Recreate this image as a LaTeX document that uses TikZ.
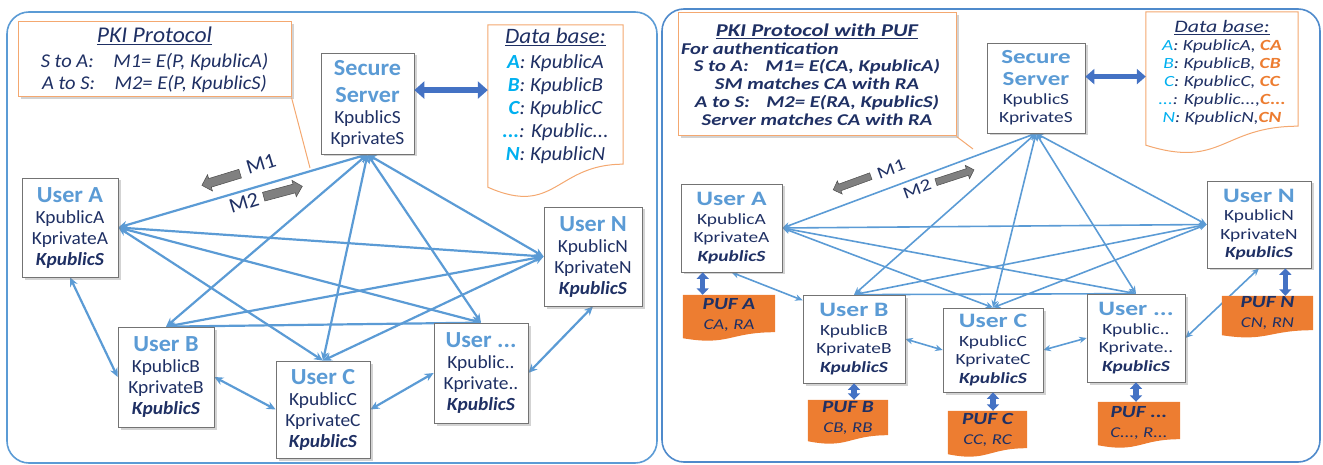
\documentclass[tikz,border=0pt]{standalone}
\usepackage{fontspec}
\setmainfont{Carlito}[FakeStretch=1.05]
\newfontfamily\rfont{Carlito}[FakeStretch=1.25]
\usetikzlibrary{arrows.meta,shadows,calc}

\definecolor{navy}{HTML}{1F3064}
\definecolor{ublue}{HTML}{5B9BD5}
\definecolor{lnblue}{HTML}{5B9BD5}
\definecolor{panelblue}{HTML}{5B9BD5}
\definecolor{panelblueR}{HTML}{4F8ACB}
\definecolor{cyanl}{HTML}{00B0F0}
\definecolor{orline}{HTML}{F4A870}
\definecolor{orfill}{HTML}{ED7D31}
\definecolor{dblue}{HTML}{4472C4}

\pgfdeclarelayer{back}
\pgfdeclarelayer{mid}
\pgfsetlayers{back,mid,main}

% document outline with a wavy lower edge:
% style, node, right-end offset, left-end offset, control offset
\newcommand\wavedoc[5]{%
  \path[#1] ($(#2.south east)+(0,#3)$) -- (#2.north east) -- (#2.north west)
    -- ($(#2.south west)+(0,#4)$) .. controls ($(#2.south)+(0,#5)$) and ($(#2.south)+(0,#3)$)
    .. ($(#2.south east)+(0,#3)$) -- cycle;}

% grey block arrow: centre x, centre y, direction, length, shaft width, head width, head length
\newcommand\blockarrow[7]{%
  \begin{scope}[shift={(#1,#2)}, rotate=#3]
    \filldraw[fill=black!50, draw=black!70, line width=0.5pt]
      (-#4/2,-#5/2) -- (#4/2-#7,-#5/2) -- (#4/2-#7,-#6/2) -- (#4/2,0)
      -- (#4/2-#7,#6/2) -- (#4/2-#7,#5/2) -- (-#4/2,#5/2) -- cycle;
  \end{scope}}

\newcommand\uttl[1]{{\fontsize{23}{21}\selectfont\bfseries\color{ublue}#1}}
\newcommand\rttl[1]{{\fontsize{20.5}{18.5}\selectfont\bfseries\color{ublue}#1}}
\newcommand\kS{\textbf{\textit{KpublicS}}}
\newcommand\cyl[1]{\textbf{\color{cyanl}#1}}
\newcommand\cyr[1]{{\color{cyanl}#1}}
\newcommand\orr[1]{\textbf{\color{orfill}#1}}

\begin{document}
\begin{tikzpicture}[x=1pt,y=-1pt,
  panel/.style={draw=panelblue, line width=1.6pt, rounded corners=22pt},
  box/.style={draw=black!55, line width=0.7pt, fill=white, inner sep=0pt, align=center, text=navy,
    drop shadow={shadow xshift=2.5pt, shadow yshift=-2.5pt, opacity=0.35}},
  lbody/.style={font=\fontsize{18.5}{21}\selectfont},
  rbody/.style={font=\rfont\fontsize{15.5}{18.5}\selectfont},
  note/.style={draw=orline, line width=1pt, fill=white, inner sep=0pt, align=center, text=navy,
    drop shadow={shadow xshift=2.5pt, shadow yshift=-2.5pt, opacity=0.35}},
  textonly/.style={inner sep=0pt, align=center, text=navy},
  dbline/.style={draw=orline, line width=1pt, fill=white},
  puffill/.style={fill=orfill},
  callout/.style={draw=orline, line width=1pt},
  link/.style={draw=lnblue, line width=2.2pt, {Stealth[length=9pt,width=8pt]}-{Stealth[length=9pt,width=8pt]}},
  rlink/.style={draw=lnblue, line width=1.6pt, {Stealth[length=7.5pt,width=6.5pt]}-{Stealth[length=7.5pt,width=6.5pt]}},
  big/.style={draw=dblue, line width=6pt, {Triangle[length=10pt,width=17pt]}-{Triangle[length=10pt,width=17pt]}},
  rbig/.style={draw=dblue, line width=5pt, {Triangle[length=9pt,width=15pt]}-{Triangle[length=9pt,width=15pt]}},
  pufarr/.style={draw=dblue, line width=5.5pt, {Triangle[length=6.5pt,width=12pt]}-{Triangle[length=6.5pt,width=12pt]}},
  mlabel/.style={text=navy, inner sep=0pt, font=\fontsize{21}{21}\selectfont},
  rmlabel/.style={text=navy, inner sep=0pt, font=\rfont\fontsize{17}{17}\selectfont}
]
\useasboundingbox (0,0) rectangle (1323,465);

% ---------------- panels ----------------
\begin{pgfonlayer}{back}
  \draw[panel] (7,12) rectangle (657,463);
  \draw[panel, draw=panelblueR] (662,9) rectangle (1320,462);
\end{pgfonlayer}

% ================= left: PKI protocol =================
\node[note, minimum width=273pt, minimum height=75pt, font=\itshape\fontsize{19.5}{22}\selectfont] (pkL) at (154.5,59.5)
  {{\fontsize{22.5}{22}\selectfont\underline{PKI Protocol}}\\[3pt]
   S to A:\quad M1= E(P, KpublicA)\\
   A to S:\quad M2= E(P, KpublicS)};
\coordinate (calL) at (310,168);
\draw[callout] (pkL.south east) -- (calL);

\node[box, lbody, minimum width=93pt, minimum height=101pt] (sL) at (367.5,103.5)
  {\uttl{Secure}\\[6pt]\uttl{Server}\\KpublicS\\KprivateS};

\node[textonly, minimum width=135pt, minimum height=142pt, font=\itshape\fontsize{20}{23}\selectfont] (dbL) at (555.5,96)
  {{\fontsize{22}{23}\selectfont\underline{Data base:}}\\[2pt]
   \cyl{A}: KpublicA\\
   \cyl{B}: KpublicB\\
   \cyl{C}: KpublicC\\
   \cyl{...}: Kpublic...\\
   \cyl{N}: KpublicN};
\begin{pgfonlayer}{mid}
  \wavedoc{dbline}{dbL}{-3}{20}{50}
\end{pgfonlayer}
\draw[big] (sL.16) -- (sL.16 -| dbL.west);

\node[box, lbody, minimum width=96pt, minimum height=99pt] (uA) at (70,227.5)
  {\uttl{User A}\\KpublicA\\KprivateA\\\kS};
\node[box, lbody, minimum width=96pt, minimum height=100pt] (uB) at (166,377)
  {\uttl{User B}\\KpublicB\\KprivateB\\\kS};
\node[box, lbody, minimum width=94pt, minimum height=97pt] (uC) at (323,409.5)
  {\uttl{User C}\\KpublicC\\KprivateC\\\kS};
\node[box, lbody, minimum width=94pt, minimum height=100pt] (uD) at (481,373)
  {\uttl{User ...}\\Kpublic..\\Kprivate..\\\kS};
\node[box, lbody, minimum width=98pt, minimum height=99pt] (uN) at (593,256.5)
  {\uttl{User N}\\KpublicN\\KprivateN\\\kS};

\begin{pgfonlayer}{back}
  \foreach \u in {uA.east, uB.north, uC.north, uD.north, uN.west}
    \draw[link] (sL.south) -- (\u);
  \draw[link] (uA.east) -- (uN.west);
  \draw[link] (uA.east) -- (uD.north);
  \draw[link] (uA.east) -- (uC.north);
  \draw[link] (uB.north) -- (uN.west);
  \draw[link] (uB.north) -- (uD.north);
  \draw[link] (uC.north) -- (uN.west);
  \draw[link] (uA.south) -- (uB.west);
  \draw[link] (uB.east) -- (uC.west);
  \draw[link] (uC.east) -- (uD.west);
  \draw[link] (uD.east) -- (uN.south);
\end{pgfonlayer}

% message directions along the server link
\blockarrow{221}{179.5}{197}{40}{9}{17}{8.5}
\blockarrow{283}{191.5}{15}{40}{9}{17}{8.5}
\node[mlabel, rotate=17] (t1L) at (261,164) {M1};
\node[mlabel, rotate=17] (t2L) at (244,203) {M2};

% ================= right: PKI protocol with PUF =================
\node[note, minimum width=278pt, minimum height=123pt, font=\rfont\bfseries\itshape\fontsize{16.5}{17.7}\selectfont] (pkR) at (817,74.5)
  {{\fontsize{18}{17.7}\selectfont\underline{PKI Protocol with PUF}}\\
   \makebox[272pt][l]{For authentication}\\
   S to A:\quad M1= E(CA, KpublicA)\\
   SM matches CA with RA\\
   A to S:\quad M2= E(RA, KpublicS)\\
   Server matches CA with RA};
\coordinate (calR) at (973,149);
\draw[callout] (pkR.south east) -- (calR);

\node[box, rbody, minimum width=98pt, minimum height=90pt] (sR) at (1036,88)
  {{\fontsize{20}{18.5}\selectfont\bfseries\color{ublue}Secure}\\[3.5pt]{\fontsize{20}{18.5}\selectfont\bfseries\color{ublue}Server}\\KpublicS\\KprivateS};

\node[textonly, minimum width=152pt, minimum height=121pt, font=\rfont\itshape\fontsize{15.5}{18}\selectfont] (dbR) at (1222,72.5)
  {{\fontsize{17.5}{18}\selectfont\underline{Data base:}}\\
   \cyr{A}: KpublicA, \orr{CA}\\
   \cyr{B}: KpublicB, \orr{CB}\\
   \cyr{C}: KpublicC, \orr{CC}\\
   \cyr{...}: Kpublic...,\orr{C...}\\
   \cyr{N}: KpublicN,\orr{CN}};
\begin{pgfonlayer}{mid}
  \wavedoc{dbline}{dbR}{-7}{12}{36}
\end{pgfonlayer}
\draw[rbig] (sR.13) -- (sR.13 -| dbR.west);

\node[box, rbody, minimum width=101pt, minimum height=88pt] (rA) at (731.5,228)
  {\rttl{User A}\\KpublicA\\KprivateA\\\kS};
\node[box, rbody, minimum width=102pt, minimum height=88pt] (rB) at (854,339)
  {\rttl{User B}\\KpublicB\\KprivateB\\\kS};
\node[box, rbody, minimum width=100pt, minimum height=84pt] (rC) at (993,350)
  {\rttl{User C}\\KpublicC\\KprivateC\\\kS};
\node[box, rbody, minimum width=98pt, minimum height=88pt] (rD) at (1136,338)
  {\rttl{User ...}\\Kpublic..\\Kprivate..\\\kS};
\node[box, rbody, minimum width=104pt, minimum height=87pt] (rN) at (1259,224.5)
  {\rttl{User N}\\KpublicN\\KprivateN\\\kS};

% PUF tokens
\tikzset{puftext/.style={textonly, font=\rfont\itshape\fontsize{15}{20}\selectfont}}
\node[puftext, minimum width=92pt, minimum height=40pt] (pA) at (729,315)
  {{\bfseries\fontsize{17}{20}\selectfont PUF A}\\CA, RA};
\node[puftext, minimum width=80pt, minimum height=35pt] (pB) at (848,417.5)
  {{\bfseries\fontsize{17}{20}\selectfont PUF B}\\CB, RB};
\node[puftext, minimum width=79pt, minimum height=38pt] (pC) at (987.5,430)
  {{\bfseries\fontsize{17}{20}\selectfont PUF C}\\CC, RC};
\node[puftext, minimum width=82pt, minimum height=42pt] (pD) at (1139,423)
  {{\bfseries\fontsize{17}{20}\selectfont PUF ...}\\C..., R...};
\node[puftext, minimum width=91pt, minimum height=34pt] (pN) at (1267.5,313)
  {{\bfseries\fontsize{17}{20}\selectfont PUF N}\\CN, RN};
\begin{pgfonlayer}{mid}
  \wavedoc{puffill}{pA}{-3}{3}{11}
  \wavedoc{puffill}{pB}{0}{6}{14}
  \wavedoc{puffill}{pC}{-1}{5}{13}
  \wavedoc{puffill}{pD}{-5}{1}{9}
  \wavedoc{puffill}{pN}{0}{5}{12}
\end{pgfonlayer}
\draw[pufarr] (rA.237) -- (rA.237 |- pA.north);
\draw[pufarr] (rB.south) -- (rB.south |- pB.north);
\draw[pufarr] (rC.south) -- (rC.south |- pC.north);
\draw[pufarr] (rD.south) -- (rD.south |- pD.north);
\draw[pufarr] (rN.301) -- (rN.301 |- pN.north);

\begin{pgfonlayer}{back}
  \foreach \u in {rA.east, rB.north, rC.north, rD.north, rN.west}
    \draw[rlink] (sR.south) -- (\u);
  \draw[rlink] (rA.east) -- (rN.west);
  \draw[rlink] (rA.east) -- (rD.north);
  \draw[rlink] (rA.east) -- (rC.north);
  \draw[rlink] (rB.north) -- (rN.west);
  \draw[rlink] (rB.north) -- (rD.north);
  \draw[rlink] (rC.north) -- (rN.west);
  \draw[rlink] (rA.south) -- (rB.143);
  \draw[rlink] (rB.east) -- (rC.west);
  \draw[rlink] (rC.east) -- (rD.west);
  \draw[rlink] (rD.east) -- (rN.south);
\end{pgfonlayer}

% message directions along the server link
\blockarrow{852}{183}{200}{40}{7}{14}{7}
\blockarrow{955}{176}{18}{40}{7}{14}{7}
\node[rmlabel, rotate=20] (t1R) at (891,169) {M1};
\node[rmlabel, rotate=20] (t2R) at (917,189) {M2};
\end{tikzpicture}
\end{document}
